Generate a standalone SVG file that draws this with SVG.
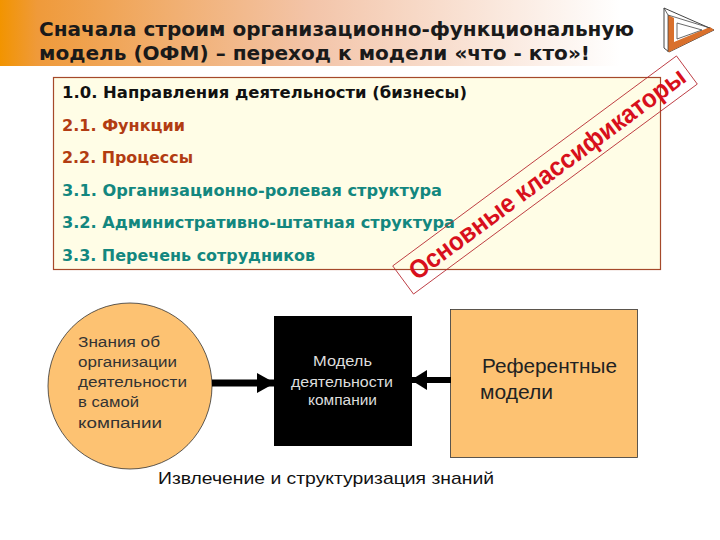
<svg xmlns="http://www.w3.org/2000/svg" width="720" height="540" viewBox="0 0 720 540">
<defs>
<linearGradient id="hdr" x1="0" y1="0" x2="1" y2="0"><stop offset="0" stop-color="#f29400"/><stop offset="0.06" stop-color="#ef9a3a"/><stop offset="0.5" stop-color="#f3c4a8"/><stop offset="1" stop-color="#ffffff"/></linearGradient>
<marker id="ah" markerUnits="userSpaceOnUse" markerWidth="18" markerHeight="20" refX="17" refY="10" orient="auto"><path d="M0 0L18 10L0 20Z" fill="#000"/></marker>
<marker id="ah2" markerUnits="userSpaceOnUse" markerWidth="16" markerHeight="20" refX="15" refY="10" orient="auto"><path d="M0 0L16 10L0 20Z" fill="#000"/></marker>
</defs>
<style>
text{font-family:"DejaVu Sans",Verdana,sans-serif}
.t{font-size:19.5px;font-weight:bold;fill:#1a1a1a}
.l{font-size:16px;font-weight:bold}
.k{fill:#111}.r{fill:#b23c12}.g{fill:#13877f}
.a{font-family:"Liberation Sans",Arial,sans-serif;font-size:15.5px}
</style>
<rect x="0" y="0" width="620" height="66" fill="url(#hdr)"/>
<text class="t" x="39" y="36" textLength="595" lengthAdjust="spacingAndGlyphs">Сначала строим организационно-функциональную</text>
<text class="t" x="39" y="60" textLength="551" lengthAdjust="spacingAndGlyphs">модель (ОФМ) – переход к модели «что - кто»!</text>
<g id="logo">
<path d="M664 8L714 30L669 52L664 48Z" fill="#fff" stroke="#444" stroke-width="1"/>
<path d="M668 15L674 18L674 42L710 27L714 30L669 52L668 52Z" fill="#d9702c"/>
<path d="M668 15L710 28M664 8L668 15L668 52" fill="none" stroke="#444" stroke-width="0.800"/>
<path d="M677 23L677 39L702 30Z" fill="#fff" stroke="#444" stroke-width="0.800"/>
</g>
<g id="panel">
<rect x="53.500" y="77.500" width="607" height="192" fill="#fffde6" stroke="#a5492a" stroke-width="1.200"/>
<text class="l k" x="62" y="98" textLength="405" lengthAdjust="spacingAndGlyphs">1.0. Направления деятельности  (бизнесы)</text>
<text class="l r" x="62" y="131" textLength="123" lengthAdjust="spacingAndGlyphs">2.1. Функции</text>
<text class="l r" x="62" y="163" textLength="131" lengthAdjust="spacingAndGlyphs">2.2. Процессы</text>
<text class="l g" x="62" y="196" textLength="380" lengthAdjust="spacingAndGlyphs">3.1. Организационно-ролевая структура</text>
<text class="l g" x="62" y="228" textLength="393" lengthAdjust="spacingAndGlyphs">3.2. Административно-штатная структура</text>
<text class="l g" x="62" y="261" textLength="253" lengthAdjust="spacingAndGlyphs">3.3. Перечень сотрудников</text>
</g>
<g id="stamp" transform="translate(545 175) rotate(-36.500)">
<rect x="-176.500" y="-17.500" width="353" height="35" fill="none" stroke="#b5242c" stroke-width="0.800"/>
<text x="-166" y="9" textLength="337" lengthAdjust="spacingAndGlyphs" font-size="26" font-weight="bold" fill="#d8101c" style="font-family:'Liberation Sans',Arial,sans-serif">Основные классификаторы</text>
</g>
<g id="knowledge">
<ellipse cx="130" cy="386" rx="82" ry="83" fill="#fdc272" stroke="#333" stroke-width="0.800"/>
<text class="a" fill="#333" lengthAdjust="spacingAndGlyphs" x="78" y="347" textLength="82">Знания об</text>
<text class="a" fill="#333" lengthAdjust="spacingAndGlyphs" x="78" y="367" textLength="99">организации</text>
<text class="a" fill="#333" lengthAdjust="spacingAndGlyphs" x="78" y="387" textLength="109">деятельности</text>
<text class="a" fill="#333" lengthAdjust="spacingAndGlyphs" x="78" y="407" textLength="61">в самой</text>
<text class="a" fill="#333" lengthAdjust="spacingAndGlyphs" x="78" y="428" textLength="84">компании</text>
</g>
<g id="model">
<rect x="274" y="316" width="138" height="130" fill="#000"/>
<text class="a" fill="#ddd" lengthAdjust="spacingAndGlyphs" x="313" y="366" textLength="59">Модель</text>
<text class="a" fill="#ddd" lengthAdjust="spacingAndGlyphs" x="291" y="387" textLength="102">деятельности</text>
<text class="a" fill="#ddd" lengthAdjust="spacingAndGlyphs" x="308" y="405" textLength="69">компании</text>
</g>
<g id="reference">
<rect x="450.500" y="309.500" width="187" height="148" fill="#fdc272" stroke="#333" stroke-width="0.800"/>
<text font-size="20" fill="#222" x="482" y="373" textLength="135" lengthAdjust="spacingAndGlyphs" style="font-family:'Liberation Sans',Arial,sans-serif">Референтные</text>
<text font-size="20" fill="#222" x="480" y="399" textLength="73" lengthAdjust="spacingAndGlyphs" style="font-family:'Liberation Sans',Arial,sans-serif">модели</text>
</g>
<g id="connectors">
<line x1="212" y1="383" x2="274" y2="383" stroke="#000" stroke-width="7" marker-end="url(#ah)"/>
<line x1="451" y1="380" x2="412" y2="380" stroke="#000" stroke-width="6" marker-end="url(#ah2)"/>
</g>
<text x="158" y="484" font-size="17" fill="#111" textLength="336" lengthAdjust="spacingAndGlyphs" style="font-family:'Liberation Sans',Arial,sans-serif">Извлечение и структуризация знаний</text>
</svg>
